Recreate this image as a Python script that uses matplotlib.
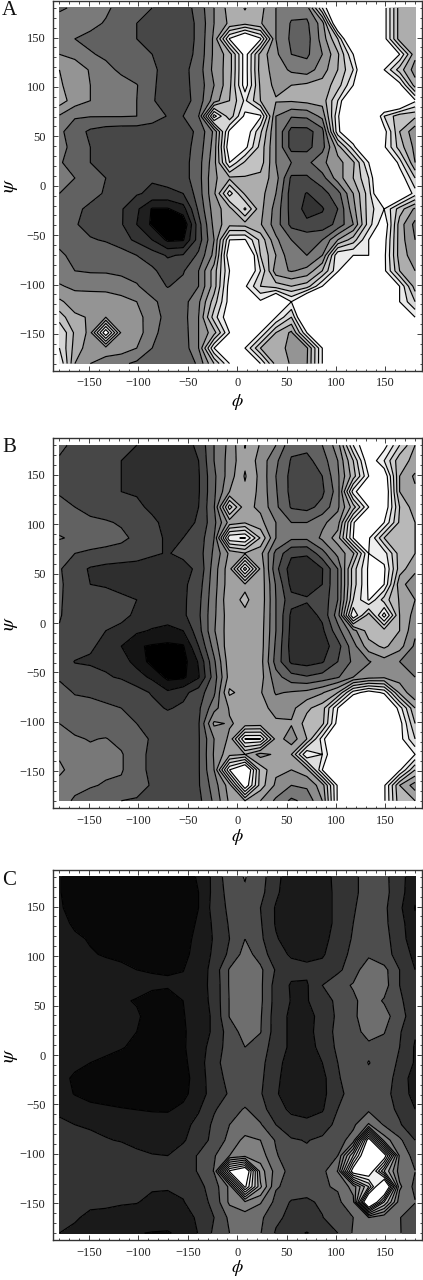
import numpy as np
import matplotlib
matplotlib.use('Agg')
import matplotlib.pyplot as plt

plt.rcParams['font.family'] = ['Liberation Serif', 'DejaVu Serif']
plt.rcParams['mathtext.fontset'] = 'stix'

# grid of the maps, 24 x 24 points, rows run from psi = 180 down to -180
phi = np.linspace(-180, 180, 24)
psi = np.linspace(180, -180, 24)

major_ticks = [-150, -100, -50, 0, 50, 100, 150]
minor_ticks = list(range(-180, 181, 10))
tick_labels = ['\u2212150', '\u2212100', '\u221250', '0', '50', '100', '150']
# panel C really is labelled like this in the original
tick_labels_c = ['\u2212150', '\u2212100', '\u2212150', '0', '50', '100', '150']

# energy, one row per psi
panel_a = [
    [5.8,6.2,6.1,6.2,5.6,5.2,5.0,4.5,4.5,5.4,7.0,8.4,9.05,8.3,7.0,6.4,6.5,11,15,15,15,12.5,8.5,8.2],
    [6.6,6.6,6.3,5.9,5.5,5.0,4.6,4.4,4.5,5.2,7.0,8.2,8.7,8.1,7.0,5.9,5.8,7.5,14,15,15,12.5,8.5,8.2],
    [7.0,6.0,5.7,5.6,5.4,5.0,4.6,4.4,4.5,5.2,7.2,12.1,14,12.2,7.0,5.8,5.6,7.4,10,15,15,12.5,8.5,8.0],
    [7.0,6.7,6.1,5.8,5.5,5.2,5.0,4.4,4.5,5.3,7.2,8.5,12.6,8.6,7.2,6.0,5.8,7.0,8.8,12,15,15,12,8.3],
    [8,7.6,6.9,6.3,5.8,5.4,5.2,4.6,4.7,5.5,7.3,8.5,12.6,8.5,7.6,6.8,6.5,7.5,9,11,15,12,9.5,7.5],
    [8.2,7.3,7.0,6.8,6.4,6.05,5.2,4.4,4.7,5.4,7.0,8.7,12.6,8.8,7.7,8.0,8.2,8.4,9.5,12,15,15,12.5,8.5],
    [8.5,7.5,7.0,6.7,6.4,6.0,5.1,4.5,4.6,5.4,7.5,9,11.2,9,8.1,8.1,8.3,8.4,11,15,15,15,15,12.2],
    [6.9,6.1,6.05,6.05,6.05,6.0,5.5,4.95,5.0,6.0,12.5,9.3,12.3,12.2,7.0,6.1,6.2,7.3,11.8,15,15,11,9.3,9.2],
    [6.2,5.5,4.8,4.5,4.4,4.4,4.4,4.5,4.6,5.2,7.2,12.3,13,10.2,7.0,4.6,4.6,5.6,11.7,14,15.5,12.5,9,7.3],
    [6.3,5.7,5.0,4.6,4.4,4.4,4.4,4.5,4.6,5.4,7.4,13,12.4,9.6,7.0,4.6,4.7,5.6,8.5,11.5,15.5,12.2,9.5,7.7],
    [6.1,5.6,5.0,4.6,4.4,4.2,4.3,4.4,4.6,5.6,7.6,12,9.8,9.5,7,6.0,5.7,6.8,7.6,8.8,12,15,11.5,8],
    [6.3,6.0,5.4,5.0,4.7,4.4,4.1,4.3,4.6,5.6,7.8,8.8,8.9,8.7,7.4,4.8,4.85,5.6,7.5,9.0,11,15,13,10],
    [6.0,5.6,5.3,4.9,4.6,4.1,3.8,3.8,4.0,5.5,7.8,11.5,8.8,8.4,7.0,4.5,3.95,4.6,5.6,8.0,10.5,15,14,11.5],
    [5.8,5.2,4.8,4.3,4.1,3.2,1.9,1.9,2.6,5.2,7.5,8.6,11.2,8.3,6.6,4.6,3.7,3.9,5.0,7.6,10.5,12,9.5,7.8],
    [5.8,5.1,4.6,4.4,4.1,3.0,1.8,0.8,1.1,4.6,7.3,8.7,8.6,8.1,6.5,4.7,4.2,4.4,5.3,7.0,10.5,13,8.5,6.7],
    [5.7,5.3,5.1,4.9,4.4,3.8,3.0,1.8,1.9,4.5,7.0,12,12.1,9.7,7.2,6,5.8,6,8,9.5,12,12.5,8.5,7],
    [6.2,5.7,5.8,5.7,5.5,5.0,4.5,3.9,4.1,5.2,7.3,13,15,10,8,6.2,6,7,11.9,12,12,12.3,8.5,7.5],
    [6.5,6.0,5.9,5.9,5.8,5.6,5.2,4.5,4.9,6,8.5,12,14,11,7.4,6.9,7.3,9.0,11.8,15,15,12.3,9,8],
    [7.1,6.8,6.7,6.6,6.4,6.1,5.5,4.95,5.3,6,8.5,12.5,12.2,10,9.5,9,9.5,12,15,15,15,15,12,8.5],
    [8.2,7.5,7.6,7.7,7.4,7,6.2,5.6,5.6,6.8,9.5,12.5,15,12.2,15,12,15,15,15,15,15,15,12,10],
    [9.5,8.2,7.9,8.0,7.9,7.4,6.4,5.7,5.6,7.0,10.5,13,15,15,12,10,15,15,15,15,15,15,15,12],
    [11,8.8,7.7,13,7.8,7.5,6.3,5.5,5.5,7.0,8.6,12,15,12,9,7.8,12,15,15,15,15,15,15,15],
    [11,8.6,7.4,7.6,7.5,7.0,6.0,5.3,5.4,7,12,15,12,9,8.3,7.8,7.8,12,15,15,15,15,15,15],
    [12,8,7,6.5,6.2,5.8,5.5,5.1,5.2,6.2,9,12,15,12,8.6,7.9,7.9,12,15,15,15,15,15,15],
]

panel_b = [
    [4.2,3.8,3.7,3.6,3.3,3.0,2.6,2.5,2.6,3.2,5,6.3,8.05,6.9,6,4.3,4.3,5,6.5,11,13.5,12.5,10,8],
    [3.9,3.6,3.5,3.3,3.0,2.8,2.4,2.3,2.4,3.0,5,6.4,7.8,6.6,5.2,3.9,3.7,4.5,6.0,9,13,11,8.3,7.8],
    [3.7,3.5,3.4,3.2,3.0,2.7,2.4,2.2,2.3,2.9,4.8,6.5,8.1,6.7,5.0,3.7,3.5,4.0,5.8,8.5,12,13,8,6.8],
    [3.9,3.6,3.4,3.2,3.0,2.9,2.6,2.4,2.4,2.9,4.8,7,7.8,6.7,5.1,3.7,3.4,3.8,5.5,11.5,14,13.5,8,7.2],
    [4.3,4.0,3.7,3.5,3.3,3.2,2.8,2.5,2.5,3,4.9,10.5,7.3,6.8,5.2,3.9,3.7,4.3,5.8,8.5,12,13,9,7.4],
    [4.5,4.4,4.2,4.1,3.9,3.7,3.2,2.7,2.7,3.1,4.7,7.4,7.9,7.3,6,5.0,5.0,5.8,6.5,11.8,15,12,8.8,8],
    [5.1,4.8,4.6,4.4,4.2,3.8,3.2,2.9,3.0,3.4,5.0,11.8,12.1,8.9,6,5.2,5.2,6.2,7.5,12,12.2,9,8.5,8],
    [4.1,4.0,3.8,3.7,3.6,3.4,3.1,2.95,3.2,3.5,5.2,7.2,7.9,7.3,4.7,3.2,3.1,4.6,6.3,7.8,12,11.5,8.5,8],
    [4.1,3.4,2.9,2.7,2.6,2.6,2.6,2.6,2.7,3.2,5.5,7.6,12.5,7.8,4.3,2.5,2.5,2.95,5,9.5,12.2,12.2,8.5,7.2],
    [4.1,3.7,3.0,2.9,2.7,2.6,2.6,2.7,2.8,3.5,5.6,7.6,7.9,7.7,4.9,2.7,2.6,3.0,5,9.5,12.2,12,7.3,6.5],
    [4.1,3.6,3.5,3.4,3.2,3.0,2.7,2.7,2.8,3.7,5.7,7.8,8.1,7.7,5,3.3,3.1,3.3,5.0,10,12.1,9.5,7.9,7],
    [4.05,3.7,3.6,3.6,3.3,2.8,2.6,2.5,2.8,3.8,5.8,7.6,7.9,7.6,5,2.8,2.6,3.2,5.5,12,8.5,12.5,8,6.6],
    [3.95,3.7,3.4,3.0,2.7,2.2,1.9,1.7,2.0,3.6,5.9,7.6,7.8,7.5,5,2.7,2.2,2.8,4.6,6.6,8.5,8.6,8,6.2],
    [3.8,3.6,3.1,2.8,2.0,1.1,0.9,0.8,0.9,3.0,5.4,7.8,7.8,7.5,4.8,2.6,2.4,2.5,3.6,5.6,7.6,8.2,7.4,5.8],
    [3.7,2.95,2.9,2.8,2.4,1.7,0.6,0.5,0.6,2.1,4.8,7.6,7.8,7.4,4.6,2.8,2.6,2.9,4.0,5.2,5.9,6.6,6.0,5.0],
    [3.9,3.5,3.3,3.1,2.9,2.4,1.8,0.7,0.8,1.9,4.5,7.4,7.8,7.4,5.4,4.4,4.1,4.4,4.9,6,6.6,6.8,6.5,6],
    [4.3,3.95,3.9,3.8,3.7,3.4,2.9,2.2,2.7,3.5,4.8,8.2,7.6,7.1,5.9,6.1,6.3,6.9,8,11.5,12.6,11.8,7.8,6.1],
    [4.6,4.3,4.2,4.1,4,3.8,3.3,2.9,3.2,3.8,5.6,7.1,7.6,7.4,6.6,6.7,7.8,8.5,12,15,15,14.5,11.5,8],
    [5.0,4.7,4.5,4.4,4.2,4.0,3.8,3.6,3.6,3.9,7.2,6.9,7.3,7.4,7.2,7.1,8.4,8.7,12.5,15,15,15,12.5,9],
    [5.3,5.1,4.95,5.05,4.7,4.3,3.9,3.7,3.6,3.9,6,7.2,12.05,12.05,7.6,6.4,8,11.5,15,15,15,15,12.5,10],
    [5.8,5.4,5.2,5.2,5.1,4.3,3.8,3.6,3.5,3.9,6.1,7.7,8,6.6,7.2,8,12,11,14,15,15,15,15,12],
    [6.3,5.4,5.2,5.2,5.1,4.3,3.8,3.6,3.5,3.9,6,12,14,8.6,7.2,7.0,7.6,12,15,15,15,15,12.2,9],
    [5.5,5.2,5.1,4.9,4.8,4.4,3.9,3.5,3.5,3.9,5.5,7.5,13,8.5,6.8,6.0,6.2,7.5,12.2,15,15,12.2,8,6.5],
    [5.3,4.9,4.5,4.2,4,3.9,3.7,3.5,3.5,3.7,5.2,7.2,8,7,5.8,4.8,5.3,7,12.2,15,15,12.2,8.3,8],
]

panel_c = [
    [1.05,.6,.6,.6,.55,.5,.5,.5,.8,1.05,2.3,3.6,4.05,3.4,2.3,1.4,1.3,1.6,2.3,2.8,3.4,3.3,2.3,1.5],
    [1.05,.6,.5,.45,.4,.4,.4,.5,.6,1.0,2.3,3.4,3.9,3.3,2.2,1.3,1.2,1.5,2.3,2.8,3.4,3.3,2.4,1.2],
    [1.1,.7,.5,.45,.4,.4,.4,.5,.6,1.0,2.4,3.2,3.7,3.0,1.9,1.3,1.2,1.5,2.3,2.9,3.5,3.2,2.2,.95],
    [1.2,.9,.6,.5,.45,.4,.4,.5,.65,1.1,2.2,3.1,3.7,3.1,1.9,1.3,1.2,1.5,2.3,3.0,3.6,3.2,2.4,1.2],
    [1.5,1.1,.95,.7,.6,.5,.5,.55,.75,1.2,2.1,3,4.0,3.2,2.1,1.5,1.4,1.7,2.4,3.1,3.7,3.3,2.5,1.3],
    [1.4,1.2,1.05,.95,.85,.8,.6,.6,.8,1.3,2.2,3.2,4.4,3.6,2.3,1.9,1.8,1.9,2.5,3.3,3.8,3.3,2.7,1.7],
    [1.4,1.3,1.25,1.2,1.15,1.0,.97,.97,.98,1.4,2.4,4.1,4.5,4.2,2.9,2.3,2.2,2.3,2.8,3.5,4.7,4.3,3.0,2.0],
    [1.4,1.3,1.2,1.2,1.15,1.15,1.1,1.05,1.15,1.6,2.3,4.1,4.5,4.2,2.6,1.9,1.9,3,3.6,4.1,4.9,4.4,3.0,2.1],
    [1.3,1.2,1.15,1.1,1.05,.97,.8,.8,1.0,1.5,2.3,4.05,4.4,4.2,2.6,1.95,1.95,2.4,3.3,3.8,4.5,3.9,3.2,2.3],
    [1.2,1.1,1.05,1.05,1.05,1.05,.85,.75,.95,1.4,2.2,4.05,4.6,4.1,2.5,1.8,1.7,2.3,3.2,3.8,4.6,4.4,3.4,2.4],
    [1.2,1.1,1.05,1.1,1.1,1.0,.75,.7,.9,1.4,2.2,3.5,4.4,4.05,2.5,1.8,1.7,2.4,3.3,3.7,4.3,4.05,3.1,2.1],
    [1.3,1.2,1.2,1.2,1.05,.85,.7,.65,.9,1.5,2.5,3.4,4.0,3.5,2.5,1.8,1.6,2.3,3.2,3.6,3.8,3.7,3.0,1.9],
    [1.2,1.15,1.0,.85,.7,.65,.6,.6,.8,1.5,2.8,3.3,3.4,3.3,2.3,1.6,1.4,2,3.0,3.6,4.03,3.7,2.8,1.9],
    [1.2,.9,.7,.6,.55,.5,.5,.5,.7,1.4,2.7,3.2,3.3,3.2,2.2,1.5,1.3,1.7,2.9,3.5,3.8,3.5,2.6,1.5],
    [1.4,.95,.7,.6,.55,.5,.5,.55,.75,1.5,2.5,3.1,3.3,3.1,2.1,1.5,1.3,1.7,2.8,3.3,3.6,3.3,2.6,1.6],
    [1.9,1.5,1.25,1.15,1.05,.98,.92,.9,1.2,1.9,2.9,3.5,4.1,3.4,2.4,1.8,1.6,1.9,3,3.6,3.8,3.4,2.8,2.0],
    [2.1,2.0,1.9,1.8,1.7,1.5,1.4,1.4,1.7,2.3,3.2,4.0,4.3,4.1,3,2.4,2.3,2.5,3.3,3.8,5.1,3.9,3.1,2.3],
    [2.4,2.3,2.2,2.05,1.95,1.75,1.6,1.6,1.9,2.5,3.3,4.3,5.3,5.0,3.9,3.1,2.95,3.2,3.6,4.4,13,5.5,4.2,3.0],
    [2.8,2.6,2.5,2.45,2.4,2.2,2.05,2.0,2.4,3.1,3.9,5.0,5.6,5.5,4.1,3.4,3.2,3.5,4.0,9,15,13,4.8,3.6],
    [3.0,2.7,2.6,2.5,2.4,2.3,2.2,2.2,2.4,3.1,4.05,12.2,14,6.5,4.6,3.6,3.5,3.7,5.05,13,13.5,8,4.5,4.02],
    [2.5,2.45,2.4,2.3,2.2,2.1,2.05,2.05,2.2,2.7,3.5,5.2,12.3,7.2,4.1,3.7,3.5,3.9,4.1,5.4,9,15.5,5.2,3.7],
    [2.3,2.2,2.1,2.1,2.05,2.02,1.9,1.85,1.95,2.5,3.3,5.2,5.8,5.1,3.7,2.9,2.8,3.2,3.8,4.7,15.5,9,4.4,4.05],
    [2.2,2.05,1.9,1.85,1.8,1.8,1.6,1.6,1.75,2.1,3.0,4.2,4.5,4.2,3.2,2.75,2.7,2.95,3.7,4.0,5.0,4.2,4.05,3.3],
    [2.0,1.9,1.8,1.7,1.5,1.05,.95,.9,1.3,2.05,3.2,4.0,4.3,4.05,2.9,2.3,1.95,2.4,3.0,4.1,4.3,4.2,4.1,3.0],
]

levels_a = [2, 3, 4, 5, 6, 7, 8, 9, 10, 11, 12]
grays_a = [0.0, 0.12, 0.2, 0.28, 0.38, 0.48, 0.58, 0.68, 0.76, 0.84, 0.92, 1.0]
levels_b = [1, 2, 3, 4, 5, 6, 7, 8, 9, 10, 11, 12]
grays_b = [0.0, 0.08, 0.18, 0.28, 0.38, 0.47, 0.55, 0.63, 0.72, 0.8, 0.87, 0.94, 1.0]
levels_c = [1, 2, 3, 4, 5, 6, 7, 8, 9, 10, 11, 12]
grays_c = [0.03, 0.1, 0.2, 0.3, 0.43, 0.5, 0.58, 0.66, 0.74, 0.82, 0.88, 0.94, 1.0]

W, H = 423, 1280
fig = plt.figure(figsize=(W / 100, H / 100), dpi=100, facecolor='white')


def draw_panel(letter, values, levels, grays, labels, top, bottom, letter_y, xpad):
    # frame given in pixels from the top of the picture
    ax = fig.add_axes([52.5 / W, 1 - bottom / H, 369.5 / W, (bottom - top) / H])
    z = np.array(values)
    ax.contourf(phi, psi, z, levels=levels, colors=[str(g) for g in grays], extend='both')
    ax.contour(phi, psi, z, levels=levels, colors='black', linewidths=0.85)
    ax.set_xlim(-187, 187)
    ax.set_ylim(-187, 187)
    ax.set_xticks(major_ticks, labels)
    ax.set_yticks(major_ticks, tick_labels)
    ax.set_xticks(minor_ticks, minor=True)
    ax.set_yticks(minor_ticks, minor=True)
    ax.tick_params(which='major', direction='in', length=3.5, width=0.6, top=True, right=True,
                   labelsize=9, pad=5, colors='#222222')
    ax.tick_params(which='minor', direction='in', length=1.8, width=0.5, top=True, right=True)
    for s in ax.spines.values():
        s.set_linewidth(1.0)
        s.set_color('#333333')
    ax.set_xlabel(r'$\phi$', fontsize=13, labelpad=xpad)
    ax.set_ylabel(r'$\psi$', fontsize=14, labelpad=0)
    fig.text(2 / W, 1 - letter_y / H, letter, fontsize=15, va='baseline', ha='left', color='#111111')


draw_panel('A', panel_a, levels_a, grays_a, tick_labels, 1, 370.5, 15, 2)
draw_panel('B', panel_b, levels_b, grays_b, tick_labels, 438.3, 807.7, 452, 0)
draw_panel('C', panel_c, levels_c, grays_c, tick_labels_c, 870, 1240, 885, -1)

fig.savefig('out.png', dpi=100)
